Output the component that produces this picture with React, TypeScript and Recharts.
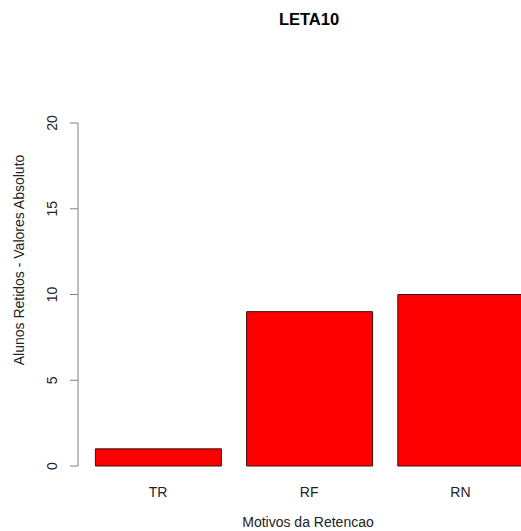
import { Bar, BarChart, XAxis, YAxis } from "recharts";

const motivos = ["TR", "RF", "RN"];
const alunosRetidos = [1, 9, 10];
const yTicks = [0, 5, 10, 15, 20];

const data = motivos.map((motivo, i) => ({ motivo, valor: alunosRetidos[i] }));

const font = '"Liberation Sans", Arial, Helvetica, sans-serif';
const textColor = "#222";
const axisColor = "#808080";

function YTick({ y, payload }: any) {
  const cx = 57;
  return (
    <text
      x={cx}
      y={y}
      transform={`rotate(-90 ${cx} ${y})`}
      textAnchor="middle"
      fontFamily={font}
      fontSize={14}
      fill={textColor}
    >
      {payload.value}
    </text>
  );
}

function XTick({ x, payload }: any) {
  return (
    <text x={x} y={497} textAnchor="middle" fontFamily={font} fontSize={14} fill={textColor}>
      {payload.value}
    </text>
  );
}

export default function App() {
  return (
    <div
      style={{
        position: "absolute",
        left: 0,
        top: 0,
        width: 521,
        height: 531,
        overflow: "hidden",
        background: "#fff",
      }}
    >
      <BarChart
        width={545}
        height={531}
        data={data}
        margin={{ top: 123, right: 5, left: 0, bottom: 0 }}
        barSize={126}
      >
        <XAxis
          dataKey="motivo"
          height={65}
          axisLine={false}
          tickLine={false}
          padding={{ left: 4.4, right: 4 }}
          tick={<XTick />}
        />
        <YAxis
          width={78}
          domain={[0, 20]}
          ticks={yTicks}
          interval={0}
          stroke={axisColor}
          axisLine={{ stroke: axisColor }}
          tickLine={{ stroke: axisColor }}
          tickSize={8}
          tick={<YTick />}
        />
        <Bar dataKey="valor" fill="#ff0000" stroke="#3a1010" strokeWidth={1} isAnimationActive={false} />
      </BarChart>
      <svg
        width={521}
        height={531}
        style={{ position: "absolute", left: 0, top: 0, pointerEvents: "none" }}
      >
        <text x={309} y={25} textAnchor="middle" fontFamily={font} fontSize={16.5} fontWeight="bold" fill="#000">
          LETA10
        </text>
        <text x={308} y={527} textAnchor="middle" fontFamily={font} fontSize={14} fill={textColor}>
          Motivos da Retencao
        </text>
        <text
          x={24}
          y={260}
          transform="rotate(-90 24 260)"
          textAnchor="middle"
          fontFamily={font}
          fontSize={14}
          fill={textColor}
        >
          Alunos Retidos - Valores Absoluto
        </text>
      </svg>
    </div>
  );
}
